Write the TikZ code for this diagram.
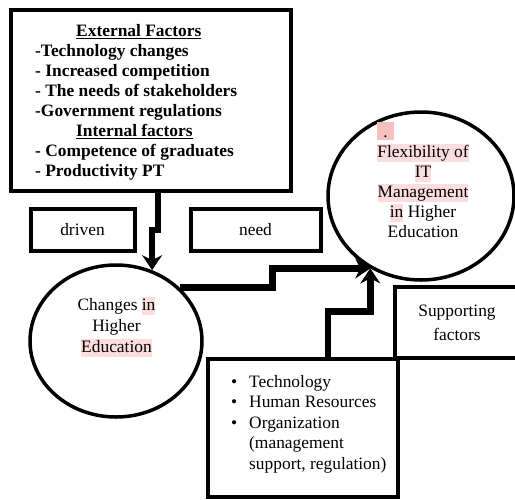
\documentclass[tikz,border=0pt]{standalone}
\usepackage{fontspec}
\setmainfont{Liberation Serif}
\usepackage{tikz}
\usetikzlibrary{positioning,shapes,arrows.meta}

\definecolor{hlpink}{RGB}{252,221,221}
\definecolor{dotpink}{RGB}{246,192,192}
% highlighted words
\newcommand{\hilite}[1]{{\setlength{\fboxsep}{0pt}\colorbox{hlpink}{\rule[-4.5pt]{0pt}{18pt}#1}}}
\newcommand{\hidot}{{\setlength{\fboxsep}{0pt}\colorbox{dotpink}{\rule[-3pt]{0pt}{18pt}\hspace*{6pt}.\hspace*{6pt}}}}

\begin{document}
\begin{tikzpicture}[x=1pt,y=-1pt,
	box/.style={draw, line width=4pt, inner sep=0pt, font=\fontsize{17.4}{20}\selectfont},
	oval/.style={draw, ellipse, line width=3.5pt, inner sep=0pt},
	flow/.style={line width=6.5pt, -{Stealth[length=15pt,width=20pt,inset=5pt]}},
	txt/.style={inner sep=0pt, font=\fontsize{17.4}{20}\selectfont}]
	\useasboundingbox (0,0) rectangle (515,499);

	% factors box
	\node[box, minimum width=280pt, minimum height=180.5pt] (ext) at (150.5,100.25) {};
	\node[txt, font=\fontsize{17.4}{20}\selectfont\bfseries, align=left, anchor=north west] (exttxt) at (35,24.5)
		{\hspace*{41pt}\underline{External Factors}\\
		-Technology changes\\
		- Increased competition\\
		- The needs of stakeholders\\
		-Government regulations\\
		\hspace*{41pt}\underline{Internal factors}\\
		- Competence of graduates\\
		- Productivity PT};

	\node[box, minimum width=104pt, minimum height=41.5pt] (drv) at (82.5,229.75) {driven};
	\node[box, minimum width=130pt, minimum height=41.5pt] (need) at (255.5,229.75) {need};

	% the two ovals
	\node[oval, minimum width=172pt, minimum height=152pt] (chg) at (116,341) {};
	\node[txt, font=\fontsize{17.4}{21}\selectfont, align=center, anchor=north] (chgtxt) at (116.5,297)
		{Changes \hilite{in}\\Higher\\\hilite{Education}};
	\node[oval, minimum width=186pt, minimum height=168pt] (flx) at (421,196) {};
	\node[txt, align=center, anchor=north] (flxtxt) at (423,122)
		{\rlap{\hidot}\phantom{Flexibility of}\\\hilite{Flexibility of}\\\hilite{IT}\\\hilite{Management}\\\hilite{in} Higher\\Education};

	\node[box, minimum width=124pt, minimum height=71pt, align=center, font=\fontsize{17.4}{24}\selectfont] (spt) at (457,322.5)
		{Supporting\\factors};

	% resources box
	\node[box, minimum width=189.5pt, minimum height=137.5pt] (res) at (302.75,427.75) {};
	\node[txt, font=\fontsize{17.4}{20.5}\selectfont, align=left, anchor=north west] (restxt) at (231,375)
		{\makebox[18pt][l]{\textbullet}Technology\\
		\makebox[18pt][l]{\textbullet}Human Resources\\
		\makebox[18pt][l]{\textbullet}Organization\\
		\hspace*{18pt}(management\\
		\hspace*{18pt}support, regulation)};

	\draw[flow] ([xshift=7.5pt]ext.south) -- ++(0,37.5) -| (chg.63);
	\draw[flow] (chg.40) -| ([xshift=-98pt]flx.235) -- (flx.235);
	\draw[flow] ([xshift=25pt]res.north) |- ([yshift=-43pt]flx.235) -- (flx.235);
\end{tikzpicture}
\end{document}
